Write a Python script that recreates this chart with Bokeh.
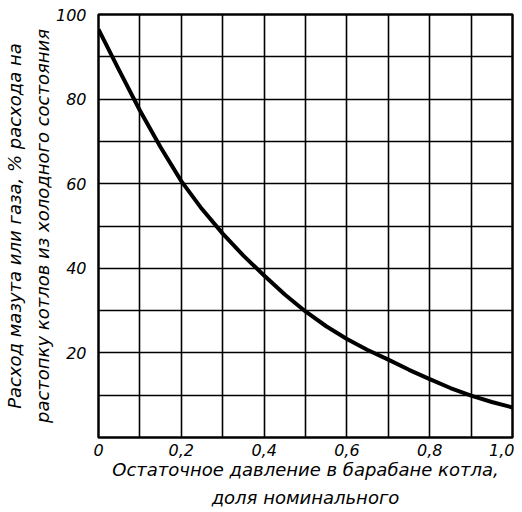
from bokeh.plotting import figure
from bokeh.models import FixedTicker, Range1d
from bokeh.embed import file_html
from bokeh.resources import INLINE

# data
pressure = [0.0, 0.05, 0.1, 0.15, 0.2, 0.25, 0.3, 0.35, 0.4, 0.45, 0.5,
            0.55, 0.6, 0.65, 0.7, 0.75, 0.8, 0.85, 0.9, 0.95, 1.0]
fuel_pct = [96.5, 86.8, 77.3, 68.6, 60.6, 54.0, 48.2, 43.0, 38.3, 33.8, 29.8,
            26.3, 23.3, 20.7, 18.4, 16.0, 13.8, 11.7, 9.9, 8.4, 7.1]

x_grid = [0.0, 0.1, 0.2, 0.3, 0.4, 0.5, 0.6, 0.7, 0.8, 0.9, 1.0]
x_tick_labels = {0.0: "0", 0.2: "0,2", 0.4: "0,4", 0.6: "0,6", 0.8: "0,8", 1.0: "1,0"}
y_grid = [0, 10, 20, 30, 40, 50, 60, 70, 80, 90, 100]
y_tick_labels = {20: "20", 40: "40", 60: "60", 80: "80", 100: "100"}

x_title = "Остаточное давление в барабане котла,\nдоля номинального"
y_title = "Расход мазута или газа, % расхода на\nрастопку котлов из холодного состояния"

FONT = "DejaVu Sans"

p = figure(width=514, height=510, output_backend="svg", toolbar_location=None,
           x_range=Range1d(0, 1), y_range=Range1d(0, 100),
           min_border_left=0, min_border_right=2, min_border_top=14, min_border_bottom=0)

p.background_fill_color = "white"
p.border_fill_color = "white"
p.outline_line_color = "black"
p.outline_line_width = 2.5

p.xaxis.ticker = FixedTicker(ticks=x_grid)
p.yaxis.ticker = FixedTicker(ticks=y_grid)
p.xaxis.major_label_overrides = {t: x_tick_labels.get(round(t, 1), "") for t in x_grid}
p.yaxis.major_label_overrides = {t: y_tick_labels.get(t, "") for t in y_grid}

for ax in (p.xaxis, p.yaxis):
    ax.axis_line_color = None
    ax.major_tick_line_color = None
    ax.minor_tick_line_color = None
    ax.major_label_text_font = FONT
    ax.major_label_text_font_style = "italic"
    ax.major_label_text_font_size = "16px"
    ax.major_label_text_color = "black"
    ax.axis_label_text_font = FONT
    ax.axis_label_text_font_style = "italic"
    ax.axis_label_text_color = "black"
    ax.axis_label_text_line_height = 1.35

p.xaxis.axis_label_text_font_size = "18px"
p.yaxis.axis_label_text_font_size = "18px"
p.xaxis.axis_label = x_title
p.yaxis.axis_label = y_title
p.xaxis.major_label_standoff = 0
p.yaxis.major_label_standoff = 6
p.xaxis.axis_label_standoff = 0
p.yaxis.axis_label_standoff = 0

p.grid.grid_line_color = "black"
p.grid.grid_line_width = 1.6
p.grid.grid_line_alpha = 1.0

p.line(pressure, fuel_pct, line_color="black", line_width=4, line_join="round")

open("out.html", "w").write(file_html(p, INLINE))
